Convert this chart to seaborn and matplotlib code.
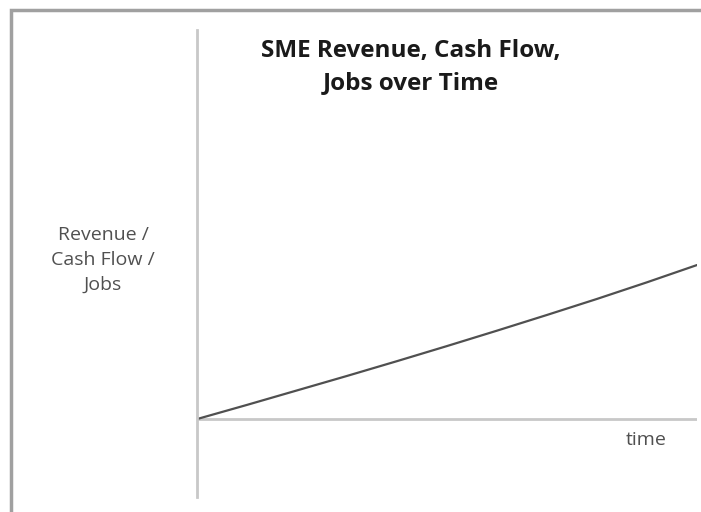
import matplotlib.pyplot as plt
import matplotlib.patches as patches
import pandas as pd
import seaborn as sns

time = [0, 1, 2, 3, 4, 5, 6, 7, 8, 9, 10]
growth = [0.0, 0.46, 0.93, 1.40, 1.88, 2.37, 2.87, 3.38, 3.90, 4.44, 5.0]

title_text = "SME Revenue, Cash Flow,\nJobs over Time"
y_text = "Revenue /\nCash Flow /\nJobs"
x_text = "time"

df = pd.DataFrame({"time": time, "value": growth})

sns.set_theme(style="white")
plt.rcParams["font.family"] = ["Open Sans", "DejaVu Sans"]

fig = plt.figure(figsize=(7.01, 5.12), dpi=100)
ax = fig.add_axes([197 / 701, 15 / 512, 500 / 701, 467 / 512])

sns.lineplot(data=df, x="time", y="value", ax=ax, color="#505050", linewidth=1.6)

ax.set_xlim(0, 10)
ax.set_ylim(-2.53, 12.63)
ax.axhline(0, color="#c8c8c8", linewidth=2, zorder=0)
for side in ["top", "right", "bottom"]:
    ax.spines[side].set_visible(False)
ax.spines["left"].set_color("#c8c8c8")
ax.spines["left"].set_linewidth(2)
ax.set_xticks([])
ax.set_yticks([])
ax.set_xlabel("")
ax.set_ylabel("")
ax.patch.set_alpha(0)

# outer frame
fig.patches.append(patches.Rectangle((11 / 701, -0.1), 1.2, (502 / 512) + 0.1,
                                     transform=fig.transFigure, fill=False,
                                     edgecolor="#a0a0a0", linewidth=2.5))

fig.text(411 / 701, 1 - 67 / 512, title_text, ha="center", va="center",
         fontsize=17.5, fontweight="bold", color="#1a1a1a", linespacing=1.5)
fig.text(103 / 701, 1 - 260 / 512, y_text, ha="center", va="center",
         fontsize=14, color="#505050", linespacing=1.5)
fig.text(646 / 701, 1 - 440 / 512, x_text, ha="center", va="center",
         fontsize=14, color="#505050")

plt.savefig("out.png", dpi=100)
plt.close()
